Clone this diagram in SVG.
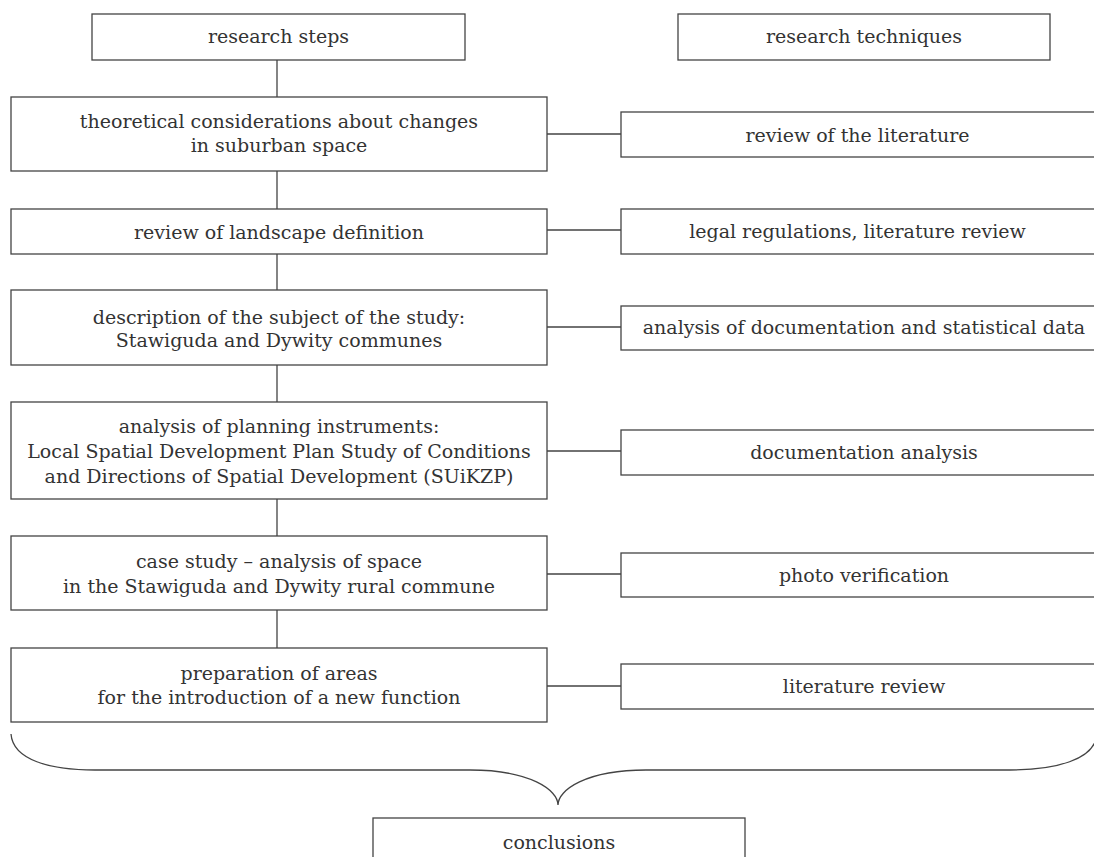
<svg xmlns="http://www.w3.org/2000/svg" width="1094" height="857" viewBox="0 0 1094 857">
<style>
.box{fill:#fff;stroke:#444;stroke-width:1.3}
.ln{fill:none;stroke:#444;stroke-width:1.3}
text{font-family:"DejaVu Serif","Liberation Serif",serif;font-size:19px;fill:#333;text-anchor:middle}
</style>
<rect width="1094" height="857" fill="#fff"/>
<g id="connectors">
<path class="ln" d="M277,60V97M277,171V209M277,254V290M277,365V402M277,499V536M277,610V648"/>
<path class="ln" d="M547,134H621M547,230H621M547,327H621M547,451H621M547,574H621M547,686H621"/>
<path class="ln" d="M11,734C13,760 50,770 95,770L470,770C530,770 558,790 558,805C558,790 586,770 646,770L1010,770C1055,770 1095,760 1097,734"/>
</g>
<g id="n-steps"><rect class="box" x="92" y="14" width="373" height="46"/><text x="278.5" y="43">research steps</text></g>
<g id="n-techniques"><rect class="box" x="678" y="14" width="372" height="46"/><text x="864" y="43">research techniques</text></g>
<g id="n-s1"><rect class="box" x="11" y="97" width="536" height="74"/><text x="279" y="128">theoretical considerations about changes</text><text x="279" y="152">in suburban space</text></g>
<g id="n-t1"><rect class="box" x="621" y="112" width="480" height="45"/><text x="857.5" y="142">review of the literature</text></g>
<g id="n-s2"><rect class="box" x="11" y="209" width="536" height="45"/><text x="279" y="239">review of landscape definition</text></g>
<g id="n-t2"><rect class="box" x="621" y="209" width="480" height="45"/><text x="857.5" y="238">legal regulations, literature review</text></g>
<g id="n-s3"><rect class="box" x="11" y="290" width="536" height="75"/><text x="279" y="324">description of the subject of the study:</text><text x="279" y="347">Stawiguda and Dywity communes</text></g>
<g id="n-t3"><rect class="box" x="621" y="306" width="480" height="44"/><text x="864" y="334">analysis of documentation and statistical data</text></g>
<g id="n-s4"><rect class="box" x="11" y="402" width="536" height="97"/><text x="279" y="433">analysis of planning instruments:</text><text x="279" y="458">Local Spatial Development Plan Study of Conditions</text><text x="279" y="483">and Directions of Spatial Development (SUiKZP)</text></g>
<g id="n-t4"><rect class="box" x="621" y="430" width="480" height="45"/><text x="864" y="459">documentation analysis</text></g>
<g id="n-s5"><rect class="box" x="11" y="536" width="536" height="74"/><text x="279" y="568">case study – analysis of space</text><text x="279" y="593">in the Stawiguda and Dywity rural commune</text></g>
<g id="n-t5"><rect class="box" x="621" y="553" width="480" height="44"/><text x="864" y="582">photo verification</text></g>
<g id="n-s6"><rect class="box" x="11" y="648" width="536" height="74"/><text x="279" y="680">preparation of areas</text><text x="279" y="704">for the introduction of a new function</text></g>
<g id="n-t6"><rect class="box" x="621" y="664" width="480" height="45"/><text x="864" y="693">literature review</text></g>
<g id="n-conclusions"><rect class="box" x="373" y="818" width="372" height="50"/><text x="559" y="849">conclusions</text></g>
</svg>
